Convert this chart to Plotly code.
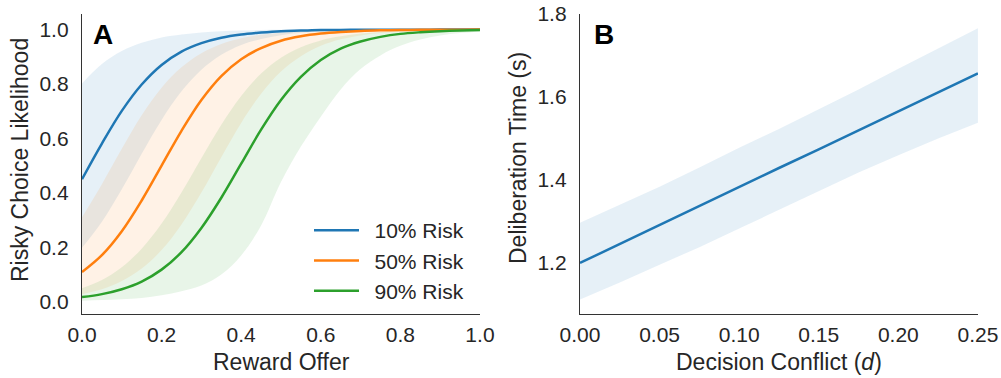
import plotly.graph_objects as go

# ---------------- Panel A data ----------------
reward = [0.00, 0.05, 0.10, 0.15, 0.20, 0.25, 0.30, 0.35, 0.40, 0.45, 0.50,
          0.55, 0.60, 0.65, 0.70, 0.75, 0.80, 0.85, 0.90, 0.95, 1.00]

risk10_mean = [0.450, 0.581, 0.701, 0.798, 0.870, 0.919, 0.950, 0.970, 0.982, 0.989, 0.994,
               0.996, 0.998, 0.9985, 0.999, 0.999, 0.9995, 0.9995, 0.9997, 0.9998, 0.9998]
risk10_hi = [0.802, 0.873, 0.921, 0.951, 0.971, 0.982, 0.9895, 0.994, 0.996, 0.998, 0.999,
             0.999, 0.9995, 0.9996, 0.9997, 0.9998, 0.9998, 0.9999, 0.9999, 0.9999, 0.9999]
risk10_lo = [0.198, 0.294, 0.413, 0.544, 0.668, 0.773, 0.852, 0.907, 0.943, 0.965, 0.979,
             0.988, 0.993, 0.9956, 0.9974, 0.9985, 0.999, 0.9994, 0.9996, 0.9997, 0.9997]

risk50_mean = [0.109, 0.171, 0.259, 0.372, 0.500, 0.628, 0.741, 0.829, 0.891, 0.932, 0.959,
               0.975, 0.985, 0.991, 0.995, 0.997, 0.998, 0.999, 0.9994, 0.9996, 0.9997]
risk50_hi = [0.310, 0.432, 0.562, 0.685, 0.786, 0.861, 0.913, 0.947, 0.968, 0.981, 0.9885,
             0.993, 0.996, 0.9975, 0.9985, 0.999, 0.9994, 0.9996, 0.9997, 0.9998, 0.9999]
risk50_lo = [0.028, 0.046, 0.076, 0.122, 0.190, 0.284, 0.401, 0.531, 0.657, 0.764, 0.846,
             0.902, 0.940, 0.964, 0.978, 0.987, 0.992, 0.9954, 0.9973, 0.9984, 0.999]

risk90_mean = [0.017, 0.028, 0.046, 0.074, 0.118, 0.182, 0.271, 0.382, 0.507, 0.632, 0.741,
               0.826, 0.888, 0.930, 0.956, 0.973, 0.984, 0.990, 0.994, 0.9965, 0.998]
risk90_hi = [0.050, 0.080, 0.127, 0.195, 0.287, 0.401, 0.527, 0.650, 0.756, 0.838, 0.896,
             0.935, 0.960, 0.975, 0.985, 0.991, 0.9945, 0.9967, 0.998, 0.9988, 0.9993]
risk90_lo = [0.004, 0.006, 0.009, 0.014, 0.024, 0.039, 0.060, 0.100, 0.170, 0.280, 0.440,
             0.570, 0.680, 0.780, 0.855, 0.905, 0.940, 0.963, 0.978, 0.987, 0.992]

series_names = ["10% Risk", "50% Risk", "90% Risk"]
series_colors = ["#1f77b4", "#ff7f0e", "#2ca02c"]
series_fills = ["rgba(31,119,180,0.11)", "rgba(255,127,14,0.10)", "rgba(44,160,44,0.11)"]

# ---------------- Panel B data ----------------
conflict = [0.000, 0.025, 0.050, 0.075, 0.100, 0.125, 0.150, 0.175, 0.200, 0.225, 0.250]
delib_mean = [1.200, 1.246, 1.291, 1.337, 1.383, 1.429, 1.474, 1.520, 1.566, 1.611, 1.657]
delib_hi = [1.297, 1.340, 1.384, 1.430, 1.478, 1.523, 1.570, 1.618, 1.668, 1.716, 1.766]
delib_lo = [1.112, 1.153, 1.196, 1.238, 1.283, 1.328, 1.374, 1.418, 1.460, 1.500, 1.538]

xticks_a = [0.0, 0.2, 0.4, 0.6, 0.8, 1.0]
yticks_a = [0.0, 0.2, 0.4, 0.6, 0.8, 1.0]
xticks_b = [0.00, 0.05, 0.10, 0.15, 0.20, 0.25]
yticks_b = [1.2, 1.4, 1.6, 1.8]

FONT = "Arial, Liberation Sans, Helvetica, sans-serif"
TXT = "#262626"

fig = go.Figure()

bands = [(risk10_lo, risk10_hi, risk10_mean), (risk50_lo, risk50_hi, risk50_mean),
         (risk90_lo, risk90_hi, risk90_mean)]
for (lo, hi, _), name, fc in zip(bands, series_names, series_fills):
    fig.add_trace(go.Scatter(x=reward, y=lo, mode="lines", line=dict(width=0, shape="spline"),
                             showlegend=False, hoverinfo="skip", xaxis="x", yaxis="y"))
    fig.add_trace(go.Scatter(x=reward, y=hi, mode="lines", line=dict(width=0, shape="spline"),
                             fill="tonexty", fillcolor=fc, showlegend=False, hoverinfo="skip",
                             xaxis="x", yaxis="y"))
for (_, _, m), name, c in zip(bands, series_names, series_colors):
    fig.add_trace(go.Scatter(x=reward, y=m, mode="lines", name="\u2002" + name,
                             line=dict(color=c, width=2.5, shape="spline"),
                             xaxis="x", yaxis="y"))

fig.add_trace(go.Scatter(x=conflict, y=delib_lo, mode="lines", line=dict(width=0),
                         showlegend=False, hoverinfo="skip", xaxis="x2", yaxis="y2"))
fig.add_trace(go.Scatter(x=conflict, y=delib_hi, mode="lines", line=dict(width=0),
                         fill="tonexty", fillcolor="rgba(31,119,180,0.11)",
                         showlegend=False, hoverinfo="skip", xaxis="x2", yaxis="y2"))
fig.add_trace(go.Scatter(x=conflict, y=delib_mean, mode="lines", showlegend=False,
                         line=dict(color="#1f77b4", width=2.5), xaxis="x2", yaxis="y2"))

W, H = 1001, 378


def px_x(p):
    return p / W


def px_y(p):
    return 1 - p / H


ydom = [px_y(314), px_y(14)]

axis_common = dict(showline=True, linecolor="#333333", linewidth=1.3, mirror=False,
                   showgrid=False, zeroline=False, ticks="", tickfont=dict(size=21, color=TXT),
                   automargin=False, ticklabeloverflow="allow")

title_font = dict(size=23, color=TXT)

fig.update_layout(
    width=W, height=H,
    margin=dict(l=0, r=0, t=0, b=0),
    paper_bgcolor="white", plot_bgcolor="white",
    font=dict(family=FONT, color=TXT),
    xaxis=dict(domain=[px_x(82), px_x(480)], range=[0, 1.0001], tickvals=xticks_a, tickformat=".1f",
               ticklabelstandoff=2, anchor="y", **axis_common),
    yaxis=dict(domain=ydom, range=[-0.045, 1.057], tickvals=yticks_a, tickformat=".1f",
               ticklabelstandoff=8, anchor="x", **axis_common),
    xaxis2=dict(domain=[px_x(580), px_x(978)], range=[0, 0.25005], tickvals=xticks_b, tickformat=".2f",
                ticklabelstandoff=2, anchor="y2", **axis_common),
    yaxis2=dict(domain=ydom, range=[1.077, 1.8003], tickvals=yticks_b, tickformat=".1f",
                ticklabelstandoff=8, anchor="x2", **axis_common),
    legend=dict(x=px_x(309), y=px_y(210), xanchor="left", yanchor="top", traceorder="normal",
                bgcolor="rgba(0,0,0,0)", font=dict(size=21, color=TXT), itemwidth=45,
                tracegroupgap=0),
    annotations=[
        dict(text="Reward Offer", x=px_x(281), y=px_y(362), xref="paper", yref="paper",
             xanchor="center", yanchor="middle", showarrow=False, font=title_font),
        dict(text="Decision Conflict (<i>d</i>)", x=px_x(779), y=px_y(362), xref="paper",
             yref="paper", xanchor="center", yanchor="middle", showarrow=False, font=title_font),
        dict(text="Risky Choice Likelihood", x=px_x(20), y=px_y(160), xref="paper", yref="paper",
             xanchor="center", yanchor="middle", textangle=-90, showarrow=False, font=title_font),
        dict(text="Deliberation Time (s)", x=px_x(518), y=px_y(158), xref="paper", yref="paper",
             xanchor="center", yanchor="middle", textangle=-90, showarrow=False, font=title_font),
        dict(text="<b>A</b>", x=px_x(91), y=px_y(17), xref="paper", yref="paper",
             xanchor="left", yanchor="top", showarrow=False, font=dict(size=28, color="black")),
        dict(text="<b>B</b>", x=px_x(592), y=px_y(17), xref="paper", yref="paper",
             xanchor="left", yanchor="top", showarrow=False, font=dict(size=28, color="black")),
    ],
)

fig.write_html("out.html", config={"displayModeBar": False},
               post_script="document.body.style.margin='0px';")
